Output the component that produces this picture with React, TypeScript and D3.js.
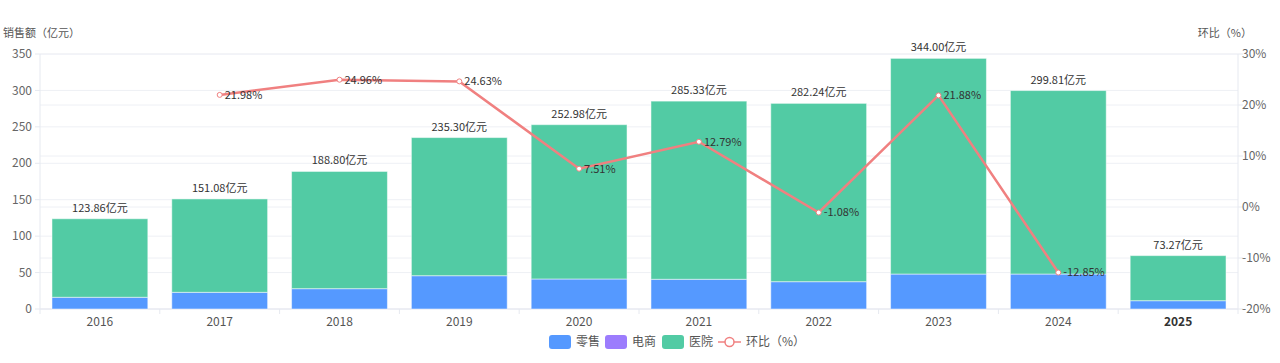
import React from "react";
import * as d3 from "d3";

// chart data
const years = ["2016", "2017", "2018", "2019", "2020", "2021", "2022", "2023", "2024", "2025"];
const totals = [123.86, 151.08, 188.8, 235.3, 252.98, 285.33, 282.24, 344.0, 299.81, 73.27];
const retail = [16.1, 22.9, 27.9, 45.7, 41.2, 40.8, 37.5, 48.0, 48.0, 11.4];
const ecommerce = [0, 0, 0, 0, 0, 0, 0, 0, 0, 0];
const hospital = totals.map((t, i) => +(t - retail[i] - ecommerce[i]).toFixed(2));
const growth: (number | null)[] = [null, 21.98, 24.96, 24.63, 7.51, 12.79, -1.08, 21.88, -12.85, null];
const leftTicks = [0, 50, 100, 150, 200, 250, 300, 350];
const rightTicks = [-20, -10, 0, 10, 20, 30];

const W = 1280;
const H = 363;
const m = { left: 40, right: 42, top: 54, bottom: 54 };
const FONT = "'Noto Sans CJK SC', 'Noto Sans', sans-serif";
const C_RETAIL = "#5599ff";
const C_EC = "#9c7cfd";
const C_HOS = "#52cba4";
const C_LINE = "#f08080";

export default function App() {
  const x = d3.scaleBand().domain(years).range([m.left, W - m.right]).paddingInner(0.2).paddingOuter(0.1);
  const band = d3.scaleBand().domain(years).range([m.left, W - m.right]);
  const y = d3.scaleLinear().domain([0, 350]).range([H - m.bottom, m.top]);
  const y2 = d3.scaleLinear().domain([-20, 30]).range([H - m.bottom, m.top]);

  const stack = d3
    .stack<number>()
    .keys(["retail", "ecommerce", "hospital"])
    .value((i, k) => (k === "retail" ? retail[i] : k === "ecommerce" ? ecommerce[i] : hospital[i]))(
    years.map((_, i) => i)
  );
  const colors = [C_RETAIL, C_EC, C_HOS];

  const pts = years
    .map((yr, i) => ({ yr, v: growth[i] }))
    .filter((d) => d.v !== null) as { yr: string; v: number }[];
  const cx = (yr: string) => (band(yr) as number) + band.bandwidth() / 2;
  const line = d3
    .line<{ yr: string; v: number }>()
    .x((d) => cx(d.yr))
    .y((d) => y2(d.v));

  const bottom = H - m.bottom;

  return (
    <svg width={W} height={H} style={{ position: "absolute", left: 0, top: 0 }} fontFamily={FONT} fontSize={12}>
      <rect width={W} height={H} fill="#fff" />
      {/* grid lines */}
      {leftTicks.map((t) => (
        <line key={"g" + t} x1={m.left} x2={W - m.right} y1={y(t)} y2={y(t)} stroke="#eef0f5" />
      ))}
      {rightTicks.map((t) => (
        <line key={"g2" + t} x1={m.left} x2={W - m.right} y1={y2(t)} y2={y2(t)} stroke="#eef0f5" />
      ))}
      {/* axes */}
      <line x1={m.left} x2={m.left} y1={m.top} y2={bottom} stroke="#e6e9f0" />
      <line x1={W - m.right} x2={W - m.right} y1={m.top} y2={bottom} stroke="#e6e9f0" />
      <line x1={m.left} x2={W - m.right} y1={bottom} y2={bottom} stroke="#e6e9f0" />
      {leftTicks.map((t) => (
        <g key={"l" + t}>
          <line x1={m.left - 5} x2={m.left} y1={y(t)} y2={y(t)} stroke="#e6e9f0" />
          <text x={m.left - 8} y={y(t)} dy="0.35em" textAnchor="end" fill="#666">
            {t}
          </text>
        </g>
      ))}
      {rightTicks.map((t) => (
        <g key={"r" + t}>
          <line x1={W - m.right} x2={W - m.right + 5} y1={y2(t)} y2={y2(t)} stroke="#e6e9f0" />
          <text x={W - m.right + 4} y={y2(t)} dy="0.35em" textAnchor="start" fill="#666">
            {t}%
          </text>
        </g>
      ))}
      {years.map((yr, i) => (
        <g key={"x" + yr}>
          <line
            x1={band(yr) as number}
            x2={band(yr) as number}
            y1={bottom}
            y2={bottom + 5}
            stroke="#e6e9f0"
          />
          <text
            x={cx(yr)}
            y={bottom + 17}
            textAnchor="middle"
            fill={i === years.length - 1 ? "#333" : "#555"}
            fontWeight={i === years.length - 1 ? "bold" : "normal"}
          >
            {yr}
          </text>
        </g>
      ))}
      <line x1={W - m.right} x2={W - m.right} y1={bottom} y2={bottom + 5} stroke="#e6e9f0" />
      <text x={3} y={37} fill="#555" fontSize={11}>
        销售额（亿元）
      </text>
      <text x={1252} y={37} fill="#555" fontSize={11} textAnchor="end">
        环比（%）
      </text>
      {/* bars */}
      {stack.map((s, si) =>
        s.map((d, i) =>
          d[1] - d[0] > 0 ? (
            <rect
              key={si + "-" + i}
              x={x(years[i])}
              width={x.bandwidth()}
              y={y(d[1])}
              height={y(d[0]) - y(d[1])}
              fill={colors[si]}
              stroke="#ffffff"
              strokeOpacity={0.5}
              strokeWidth={1}
            />
          ) : null
        )
      )}
      {totals.map((t, i) => (
        <text key={"t" + i} x={cx(years[i])} y={y(t) - 7} textAnchor="middle" fill="#333" fontSize={11}>
          {t.toFixed(2)}亿元
        </text>
      ))}
      {/* growth line */}
      <path d={line(pts) || ""} fill="none" stroke={C_LINE} strokeWidth={2.5} />
      {pts.map((d) => (
        <g key={"p" + d.yr}>
          <circle cx={cx(d.yr)} cy={y2(d.v)} r={2.5} fill="#fff" stroke={C_LINE} strokeWidth={1} />
          <text x={cx(d.yr) + 5} y={y2(d.v)} dy="0.35em" fill="#333" fontSize={11}>
            {d.v.toFixed(2)}%
          </text>
        </g>
      ))}
      {/* legend */}
      <g fontSize={12} fill="#555">
        <rect x={549} y={335} width={22} height={14} rx={3} fill={C_RETAIL} />
        <text x={576} y={342} dy="0.35em">零售</text>
        <rect x={605} y={335} width={22} height={14} rx={3} fill={C_EC} />
        <text x={632} y={342} dy="0.35em">电商</text>
        <rect x={662} y={335} width={22} height={14} rx={3} fill={C_HOS} />
        <text x={689} y={342} dy="0.35em">医院</text>
        <line x1={718} x2={741} y1={342} y2={342} stroke={C_LINE} strokeWidth={1.5} />
        <circle cx={729.5} cy={342} r={4.5} fill="#fff" stroke={C_LINE} strokeWidth={1.5} />
        <text x={746} y={342} dy="0.35em">环比（%）</text>
      </g>
    </svg>
  );
}
